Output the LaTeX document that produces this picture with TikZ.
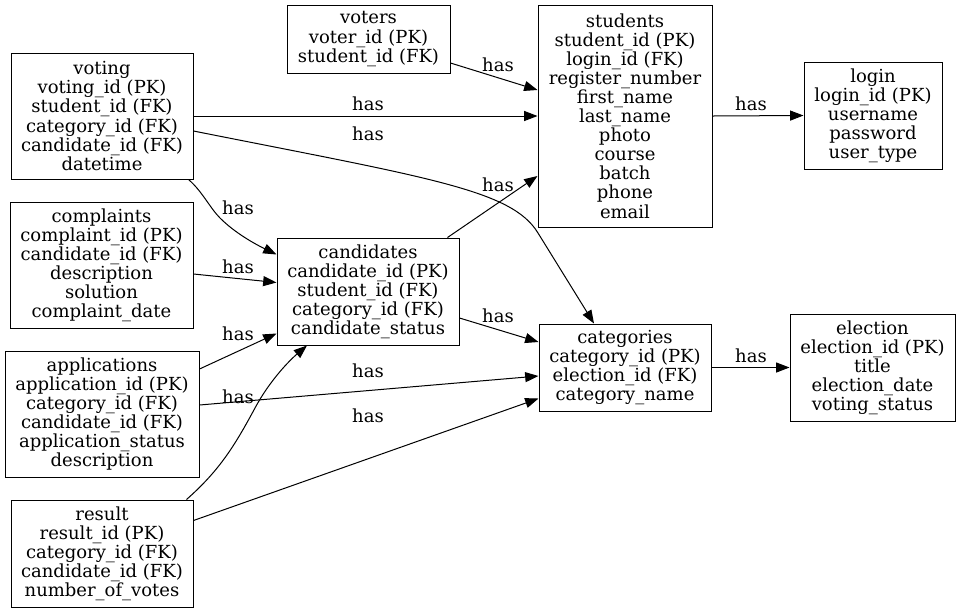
\documentclass[tikz,border=0pt]{standalone}
\usepackage{fontspec}
\setmainfont{DejaVu Serif}
\usepackage{tikz}
\usetikzlibrary{calc,arrows.meta}
\tikzset{
  tbl/.style={draw,line width=0.75pt,align=center,inner sep=0pt,font=\fontsize{13.5}{14.3}\selectfont},
  rel/.style={-{Triangle[length=10pt,width=7.5pt]},line width=0.75pt},
  lbl/.style={inner sep=0pt,font=\fontsize{13.5}{14.3}\selectfont}
}
\begin{document}
\begin{tikzpicture}[x=0.75pt,y=-0.75pt]
\useasboundingbox (0,0) rectangle (960,612);
\node[tbl,minimum width=122.25pt,minimum height=51pt] (voters) at (368.5,39) {voters\\voter\_id (PK)\\student\_id (FK)};
\node[tbl,minimum width=136.5pt,minimum height=94.5pt] (voting) at (102,116) {voting\\voting\_id (PK)\\student\_id (FK)\\category\_id (FK)\\candidate\_id (FK)\\datetime};
\node[tbl,minimum width=137.25pt,minimum height=94.5pt] (complaints) at (101.5,265) {complaints\\complaint\_id (PK)\\candidate\_id (FK)\\description\\solution\\complaint\_date};
\node[tbl,minimum width=136.5pt,minimum height=80.25pt] (candidates) at (368,291.5) {candidates\\candidate\_id (PK)\\student\_id (FK)\\category\_id (FK)\\candidate\_status};
\node[tbl,minimum width=145.5pt,minimum height=94.5pt] (applications) at (102,414) {applications\\application\_id (PK)\\category\_id (FK)\\candidate\_id (FK)\\application\_status\\description};
\node[tbl,minimum width=136.5pt,minimum height=80.25pt] (result) at (102,553.5) {result\\result\_id (PK)\\category\_id (FK)\\candidate\_id (FK)\\number\_of\_votes};
\node[tbl,minimum width=130.5pt,minimum height=166.5pt] (students) at (625,116) {students\\student\_id (PK)\\login\_id (FK)\\register\_number\\first\_name\\last\_name\\photo\\course\\batch\\phone\\email};
\node[tbl,minimum width=103.5pt,minimum height=80.25pt] (login) at (873,115.5) {login\\login\_id (PK)\\username\\password\\user\_type};
\node[tbl,minimum width=129pt,minimum height=65.25pt] (categories) at (625,367.5) {categories\\category\_id (PK)\\election\_id (FK)\\category\_name};
\node[tbl,minimum width=123.75pt,minimum height=80.25pt] (election) at (872.5,367.5) {election\\election\_id (PK)\\title\\election\_date\\voting\_status};

\draw[rel] ($(voters.east)+(0,24)$) -- ($(students.west)+(0,-26)$);
\draw[rel] (voting.east) -- (students.west);
\draw[rel] ($(voting.east)+(0,15)$) .. controls (430,178) and (512,190) .. (538,233) -- ($(categories.north)+(-31,0)$);
\draw[rel] ($(voting.south east)+(-5,0)$) .. controls (202,191) and (210,208) .. (220,218) .. controls (235,233) and (255,244) .. ($(candidates.west)+(0,-37)$);
\draw[rel] ($(complaints.east)+(0,9)$) -- ($(candidates.west)+(0,-9)$);
\draw[rel] ($(applications.east)+(0,-45)$) -- ($(candidates.west)+(0,42)$);
\draw[rel] ($(applications.east)+(0,-9)$) -- ($(categories.west)+(0,8.5)$);
\draw[rel] ($(result.north east)+(-7,0)$) .. controls (220,470) and (235,445) .. (255,408) .. controls (270,380) and (290,360) .. ($(candidates.south)+(-61,0)$);
\draw[rel] ($(result.east)+(0,-33)$) -- ($(categories.west)+(0,31)$);
\draw[rel] ($(candidates.north east)+(-12,0)$) -- ($(students.west)+(0,60)$);
\draw[rel] ($(candidates.east)+(0,26.5)$) -- ($(categories.west)+(0,-25.5)$);
\draw[rel] (students.east) -- (login.west);
\draw[rel] (categories.east) -- (election.west);

\node[lbl] (hvs) at (498,65) {has};
\node[lbl] (hgs) at (368,104) {has};
\node[lbl] (hgc) at (368,134) {has};
\node[lbl] (hgd) at (238,208) {has};
\node[lbl] (hcd) at (238,267) {has};
\node[lbl] (had) at (238,334) {has};
\node[lbl] (hac) at (368,371) {has};
\node[lbl] (hrd) at (238,397) {has};
\node[lbl] (hrc) at (368,416) {has};
\node[lbl] (hds) at (498,185) {has};
\node[lbl] (hdc) at (498,316) {has};
\node[lbl] (hsl) at (751,104) {has};
\node[lbl] (hce) at (751,356) {has};
\end{tikzpicture}
\end{document}
